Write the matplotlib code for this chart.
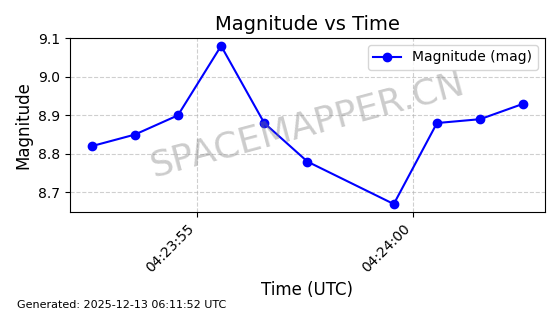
import numpy as np
import pandas as pd
import matplotlib
matplotlib.use('Agg')
import matplotlib.pyplot as plt
import matplotlib.dates as mdates

times = pd.to_datetime([
    '2025-12-13 04:23:52.56', '2025-12-13 04:23:53.56', '2025-12-13 04:23:54.56',
    '2025-12-13 04:23:55.56', '2025-12-13 04:23:56.56', '2025-12-13 04:23:57.56',
    '2025-12-13 04:23:59.56', '2025-12-13 04:24:00.56', '2025-12-13 04:24:01.56',
    '2025-12-13 04:24:02.56'])
mags = [8.82, 8.85, 8.90, 9.08, 8.88, 8.78, 8.67, 8.88, 8.89, 8.93]

fig, ax = plt.subplots(figsize=(5.6, 3.14), dpi=100)
fig.subplots_adjust(left=0.125, right=0.973, top=0.879, bottom=0.325)

ax.plot(times, mags, 'o-', color='blue', linewidth=1.5, markersize=6, label='Magnitude (mag)')
ax.set_title('Magnitude vs Time', fontsize=14)
ax.set_xlabel('Time (UTC)', fontsize=12)
ax.set_ylabel('Magnitude', fontsize=12)
ax.grid(True, linestyle='--', alpha=0.6)
ax.legend(loc='upper right')

ax.xaxis.set_major_locator(mdates.SecondLocator(bysecond=range(0, 60, 5)))
ax.xaxis.set_major_formatter(mdates.DateFormatter('%H:%M:%S'))
plt.setp(ax.get_xticklabels(), rotation=45, ha='right')

# watermark
ax.text(0.5, 0.5, 'SPACEMAPPER.CN', transform=ax.transAxes, fontsize=26,
        color='gray', alpha=0.4, rotation=15, ha='center', va='center')

fig.text(0.03, 0.02, 'Generated: 2025-12-13 06:11:52 UTC', fontsize=8)

plt.savefig('out.png', dpi=100)
